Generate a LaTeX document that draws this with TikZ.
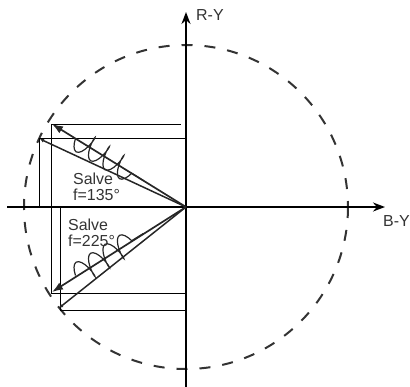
\documentclass[tikz,border=0pt]{standalone}
\usepackage{fontspec}
\setmainfont{Liberation Sans}
\usetikzlibrary{arrows.meta,decorations.pathmorphing}
\begin{document}
\begin{tikzpicture}[x=1bp,y=-1bp,
  axisline/.style={line width=2.4bp,black,-{Stealth[length=12bp,width=9bp]}},
  hline/.style={line width=1.8bp,black,-{Stealth[length=12bp,width=9bp]}},
  proj/.style={line width=1bp,black},
  vec/.style={line width=1.7bp,black!85},
  thinvec/.style={line width=1.5bp,black!85},
  coilline/.style={line width=1.2bp,black!85,decorate,
    decoration={coil,amplitude=11bp,segment length=17bp,aspect=0.3}},
  lbl/.style={font=\fontsize{16}{17}\selectfont,text=black!80,inner sep=0pt,anchor=base west},
  dashcircle/.style={line width=2bp,black!80,dash pattern=on 11bp off 12bp}]
\useasboundingbox (0,0) rectangle (410,387);
% axes
\coordinate (O) at (186,207);
\coordinate (xl) at (7,207);
\coordinate (xr) at (385,207);
\coordinate (yb) at (186,387);
\coordinate (yt) at (186,12);
\draw[dashcircle] (O) circle[radius=162];
\draw[hline] (xl) -- (xr);
\draw[axisline] (yb) -- (yt);
\node[lbl] (ry) at (196,20) {R-Y};
\node[lbl] (by) at (383,226) {B-Y};
% projection rectangles
\coordinate (u1) at (52,124);
\coordinate (u1r) at (181,124);
\coordinate (u2) at (39,138);
\coordinate (u2r) at (186,138);
\coordinate (u2b) at (39,207);
\coordinate (l1) at (51,293);
\coordinate (l1r) at (186,293);
\coordinate (ut) at (51,124);
\coordinate (l2) at (60,310);
\coordinate (l2r) at (186,310);
\coordinate (l2t) at (60,207);
\draw[proj] (u1) -- (u1r);
\draw[proj] (u2) -- (u2r);
\draw[proj] (u2) -- (u2b);
\draw[proj] (ut) -- (l1);
\draw[proj] (l1) -- (l1r);
\draw[proj] (l2) -- (l2r);
\draw[proj] (l2t) -- (l2);
% vectors
\coordinate (ua) at (52,124);
\coordinate (ub) at (40,139);
\coordinate (la) at (52,292);
\coordinate (lb) at (59,308);
\draw[vec,-{Latex[length=11bp,width=8bp]}] (O) -- (ua);
\draw[thinvec,-{Latex[length=4bp,width=4bp]}] (O) -- (ub);
\draw[vec,-{Latex[length=11bp,width=8bp]}] (O) -- (la);
\draw[thinvec,-{Latex[length=4bp,width=4bp]}] (O) -- (lb);
% coils
\coordinate (uc1) at (75.5,138.5);
\coordinate (uc2) at (143.5,180.6);
\coordinate (lc1) at (75.5,275.5);
\coordinate (lc2) at (143.5,233.4);
\draw[coilline,decoration={mirror}] (uc1) -- (uc2);
\draw[coilline] (lc1) -- (lc2);
% labels
\node[lbl] (s1) at (73,184) {Salve};
\node[lbl] (f1) at (73,200) {f=135°};
\node[lbl] (s2) at (68,230) {Salve};
\node[lbl] (f2) at (68,246) {f=225°};
\end{tikzpicture}
\end{document}
